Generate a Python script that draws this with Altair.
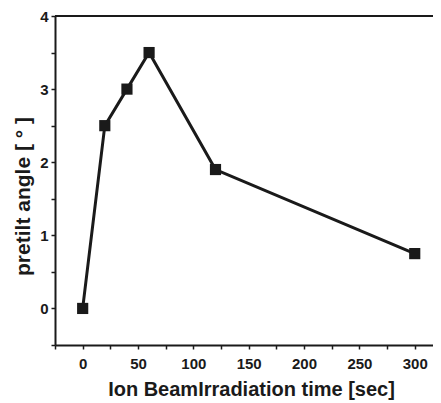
import altair as alt
import pandas as pd

time_sec = [0, 20, 40, 60, 120, 300]
pretilt = [0.0, 2.5, 3.0, 3.5, 1.9, 0.75]

x_ticks = [-25, 0, 25, 50, 75, 100, 125, 150, 175, 200, 225, 250, 275, 300]
y_ticks = [-0.5, 0, 0.5, 1, 1.5, 2, 2.5, 3, 3.5, 4]

df = pd.DataFrame({"t": time_sec, "a": pretilt})

FONT = "Liberation Sans"
INK = "#1a1a1a"

x = alt.X("t:Q",
          scale=alt.Scale(domain=[-25, 316.5], nice=False, zero=False),
          axis=alt.Axis(title="Ion BeamIrradiation time [sec]", values=x_ticks,
                        labelExpr="(datum.value % 50 == 0 && datum.value >= 0 && datum.value <= 300) ? format(datum.value, 'd') : ''",
                        grid=False, domainColor=INK, domainWidth=2, tickColor=INK, tickWidth=1.5,
                        tickSize=4, labelFont=FONT, labelFontSize=15, labelFontWeight="bold",
                        labelColor=INK, labelPadding=7, labelOverlap=False, labelBound=False,
                        labelFlush=False,
                        titleFont=FONT, titleFontSize=20, titleX=196,
                        titleFontWeight="bold", titleColor=INK, titlePadding=8))
y = alt.Y("a:Q",
          scale=alt.Scale(domain=[-0.5, 4], nice=False, zero=False),
          axis=alt.Axis(title="pretilt angle [ ° ]", values=y_ticks,
                        labelExpr="(datum.value % 1 == 0 && datum.value >= 0) ? format(datum.value, 'd') : ''",
                        grid=False, domainColor=INK, domainWidth=2, tickColor=INK, tickWidth=1.5,
                        tickSize=4, labelFont=FONT, labelFontSize=15, labelFontWeight="bold",
                        labelColor=INK, labelPadding=3, labelOverlap=False, labelBound=False,
                        labelFlush=False,
                        titleFont=FONT, titleFontSize=21,
                        titleFontWeight="bold", titleColor=INK, titleX=-22, titleY=180))

line = alt.Chart(df).mark_line(color=INK, strokeWidth=3).encode(x=x, y=y)
pts = alt.Chart(df).mark_square(color=INK, size=125, opacity=1).encode(x=x, y=y)
top = alt.Chart(df).mark_rule(color=INK, strokeWidth=2).encode(
    y=alt.value(0), x=alt.value(0), x2=alt.value(378))

chart = alt.layer(line, pts, top).properties(
    width=378, height=329,
    autosize=alt.AutoSizeParams(type="none"),
    padding={"left": 47, "top": 8, "right": 0, "bottom": 56},
).configure_view(stroke=None).configure(background="white")

chart.save("out.html", embed_options={"renderer": "svg", "actions": False})
